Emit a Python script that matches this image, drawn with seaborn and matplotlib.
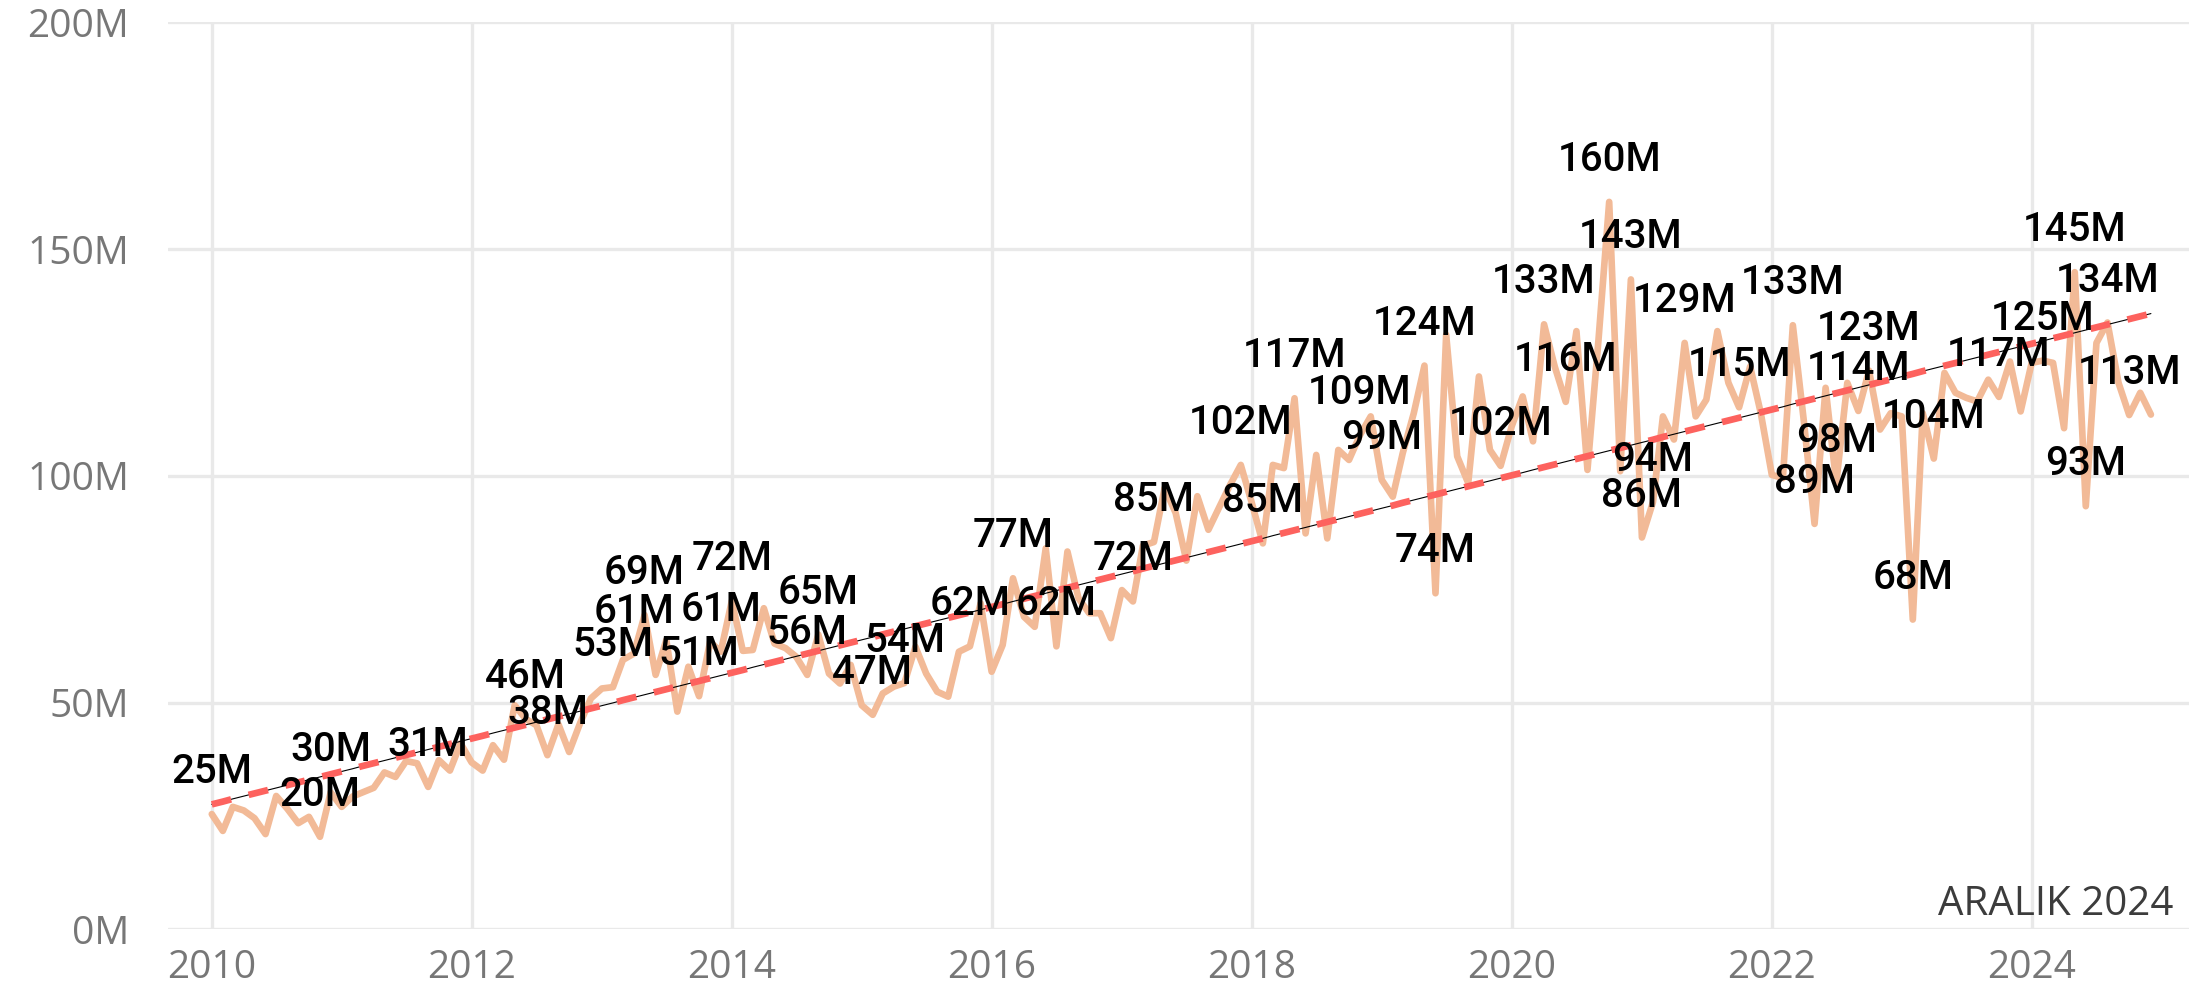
import numpy as np
import pandas as pd
import matplotlib
matplotlib.use("Agg")
import matplotlib.pyplot as plt
import matplotlib.dates as mdates
from matplotlib.ticker import FuncFormatter
import seaborn as sns

# monthly values, in millions (Jan 2010 .. Dec 2024)
months = pd.date_range("2010-01-01", periods=180, freq="MS")
values_m = [
    25.4, 21.7, 27.0, 26.2, 24.5, 21.0, 29.4, 26.6, 23.4, 24.8, 20.4, 30.2,   # 2010
    27.0, 29.3, 30.2, 31.2, 34.6, 33.6, 37.1, 36.6, 31.4, 37.3, 35.0, 41.0,   # 2011
    36.8, 35.0, 40.6, 37.4, 49.4, 46.4, 45.0, 38.4, 45.2, 39.1, 45.5, 50.9,   # 2012
    53.1, 53.4, 59.4, 60.8, 69.3, 56.1, 63.8, 48.0, 57.9, 51.4, 63.4, 61.2,   # 2013
    72.4, 61.4, 61.6, 70.8, 63.0, 62.0, 60.1, 56.1, 65.0, 56.4, 54.2, 58.3,   # 2014
    49.4, 47.3, 52.0, 53.5, 54.3, 62.3, 56.4, 52.4, 51.3, 61.2, 62.4, 71.9,   # 2015
    56.8, 62.7, 77.4, 68.9, 66.7, 84.0, 62.4, 83.3, 73.0, 69.7, 69.7, 64.2,   # 2016
    74.8, 72.3, 84.6, 85.4, 97.3, 91.8, 81.3, 95.5, 88.1, 93.0, 98.0, 102.4,  # 2017
    94.0, 85.1, 102.4, 101.7, 117.1, 87.3, 104.6, 86.2, 105.7, 103.5, 109.0, 113.1,  # 2018
    99.1, 95.4, 105.0, 113.8, 124.3, 74.1, 131.1, 104.3, 98.4, 121.9, 105.7, 102.2,  # 2019
    110.9, 117.5, 107.6, 133.4, 124.1, 116.3, 131.9, 101.3, 130.0, 160.4, 101.0, 143.3,  # 2020
    86.4, 94.2, 113.1, 108.0, 129.3, 113.1, 116.8, 131.9, 120.5, 115.1, 124.1, 113.8,  # 2021
    100.2, 99.5, 133.2, 112.0, 89.4, 119.4, 98.4, 120.5, 114.3, 123.2, 110.2, 113.8,  # 2022
    113.1, 68.3, 113.8, 103.8, 122.7, 118.3, 117.2, 116.4, 121.2, 117.4, 125.2, 114.2,  # 2023
    124.9, 125.4, 124.9, 110.5, 144.9, 93.3, 129.3, 133.8, 120.5, 113.4, 118.3, 113.5,  # 2024
]

# which months carry a data label
label_months = [0, 10, 11, 20, 29, 31, 37, 39, 40, 45, 47, 48, 55, 56, 61, 64,
                70, 74, 78, 85, 87, 95, 97, 100, 106, 108, 112, 113, 119, 123,
                125, 129, 131, 132, 133, 136, 141, 146, 148, 150, 152, 153,
                157, 159, 165, 169, 172, 173, 175, 177]

year_ticks = [2010, 2012, 2014, 2016, 2018, 2020, 2022, 2024]
y_ticks = [0, 50, 100, 150, 200]
corner_text = "ARALIK 2024"

df = pd.DataFrame({"month": months, "value": values_m})
idx = np.arange(len(df))
slope, intercept = np.polyfit(idx, df["value"], 1)
df["trend"] = intercept + slope * idx

sns.set_style("white")
plt.rcParams["font.family"] = ["Open Sans", "DejaVu Sans"]

W, H = 2189, 1001
fig = plt.figure(figsize=(W / 100, H / 100), dpi=100)
ax = fig.add_axes([168 / W, 71.7 / H, (W - 168) / W, 907 / H])

sns.lineplot(data=df, x="month", y="value", ax=ax, color="#F2BA97", zorder=3)
sns.lineplot(data=df, x="month", y="trend", ax=ax, color="black", zorder=4)
sns.lineplot(data=df, x="month", y="trend", ax=ax, color="#FD625E", zorder=5)
main_line, thin_trend, dash_trend = ax.lines[-3:]
main_line.set_linewidth(4.8)
main_line.set_solid_joinstyle("round")
thin_trend.set_linewidth(0.8)
dash_trend.set_linewidth(4.8)
dash_trend.set_linestyle((0, (3, 2.7)))

for i in label_months:
    v = df["value"].iloc[i]
    ax.annotate(f"{v:.0f}M", (df["month"].iloc[i], v), xytext=(0, 22.3),
                textcoords="offset points", ha="center", va="baseline",
                fontsize=29, family=["Roboto", "DejaVu Sans"],
                fontweight="medium", color="black", zorder=6)

start = pd.Timestamp("2010-01-01")
ax.set_xlim(start - pd.Timedelta(days=123), start + pd.Timedelta(days=5555))
ax.set_ylim(0, 200)
ax.set_xticks([pd.Timestamp(f"{y}-01-01") for y in year_ticks])
ax.xaxis.set_major_formatter(mdates.DateFormatter("%Y"))
ax.set_yticks(y_ticks)
ax.yaxis.set_major_formatter(FuncFormatter(lambda v, p: f"{v:.0f}M"))
ax.grid(True, color="#E9E9E9", lw=2.4)
ax.set_axisbelow(True)
for s in ax.spines.values():
    s.set_visible(False)
ax.tick_params(axis="both", length=0, labelsize=28, labelcolor="#777777")
ax.tick_params(axis="y", pad=28)
ax.tick_params(axis="x", pad=14)
ax.set_xlabel("")
ax.set_ylabel("")

fig.text(2173 / W, 1 - 915 / H, corner_text, ha="right", va="baseline",
         fontsize=29, color="#3C3C3C")

fig.savefig("out.png", dpi=100)
